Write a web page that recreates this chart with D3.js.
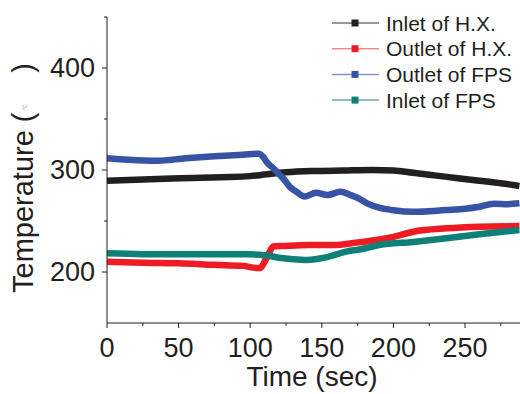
<!DOCTYPE html>
<html>
<head>
<meta charset="utf-8">
<script src="https://cdn.jsdelivr.net/npm/d3@7/dist/d3.min.js"></script>
<style>
html,body{margin:0;padding:0;background:#fff;}
svg{display:block;font-family:"Liberation Sans",Arial,sans-serif;}
</style>
</head>
<body>
<svg id="chart" width="520" height="394"></svg>
<script>
// ---- data ----
const seriesNames = ["Inlet of H.X.", "Outlet of H.X.", "Outlet of FPS", "Inlet of FPS"];
const seriesColors = ["#231f20", "#ed1c24", "#3753a5", "#0e8078"];
const legendLineColors = ["#7a7778", "#f28a8e", "#8593c8", "#63ada8"];

const inletHXTime = [0,20,40,60,80,100,110,125,145,165,185,200,215,230,245,260,275,288];
const inletHXTemp = [289.5,290.5,291.5,292.2,293,294,295.5,297.7,299,299.5,300,299.6,297,294.5,292,289.5,287,284.3];

const outletHXTime = [0,25,50,75,95,104,107,110,113,116,123,140,158,174,188,200,214,237,260,288];
const outletHXTemp = [210,209,208.5,207,206,204,204,210,218,225,225.5,226.5,226.5,228.8,231.4,234.5,239.5,242.8,244.4,245];

const outletFPSTime = [0,15,35,55,75,95,106,109,112,116,120,124,128,132,138,146,154,163,170,176,182,190,200,214,237,250,260,270,280,288];
const outletFPSTemp = [311.5,310,309,311.5,313.5,315,316,313,307,302,296,290,283,279,274,277.7,275.5,278.7,275.5,272,267,263,260.5,259,260.8,262,264,267,266.5,267.3];

const inletFPSTime = [0,25,50,75,100,110,120,130,140,153,167,180,190,214,237,260,288];
const inletFPSTemp = [218.3,217.5,217.3,217.3,217.3,216.5,214,212.5,211.8,214.4,220,223,226.5,229.5,233,237,241.2];

const xMajorTicks = [0,50,100,150,200,250];
const xMinorTicks = [25,75,125,175,225,275];
const yMajorTicks = [200,300,400];
const yMinorTicks = [250,350];

const xTitle = "Time (sec)";
const yTitle = "Temperature (";

// ---- chart ----
const svg = d3.select("#chart");
const ink = "#231f20";

const x = d3.scaleLinear().domain([0, 300]).range([107, 536.6]);
const y = d3.scaleLinear().domain([150, 450]).range([323, 17]);

const series = [
  {t: inletHXTime, v: inletHXTemp},
  {t: outletHXTime, v: outletHXTemp},
  {t: outletFPSTime, v: outletFPSTemp},
  {t: inletFPSTime, v: inletFPSTemp}
];

svg.append("defs").append("clipPath").attr("id","plotclip")
  .append("rect").attr("x",107).attr("y",17).attr("width",420).attr("height",306);

const line = d3.line().x(d => x(d[0])).y(d => y(d[1])).curve(d3.curveMonotoneX);
const drawOrder = [0, 2, 1, 3];
const g = svg.append("g").attr("clip-path","url(#plotclip)");
drawOrder.forEach(i => {
  const s = series[i];
  g.append("path")
    .datum(s.t.map((tt, k) => [tt, s.v[k]]))
    .attr("d", line)
    .attr("fill","none")
    .attr("stroke", seriesColors[i])
    .attr("stroke-width", 6.5)
    .attr("stroke-linejoin","round");
});

// axes
const xAxis = svg.append("g").attr("transform", `translate(0,${y(150)})`);
xAxis.append("line").attr("x1", x(0)).attr("x2", 520).attr("stroke", ink).attr("stroke-width",1);
xAxis.selectAll(".maj").data(xMajorTicks).enter().append("line")
  .attr("x1", d => x(d)).attr("x2", d => x(d)).attr("y1",0).attr("y2",5).attr("stroke",ink);
xAxis.selectAll(".min").data(xMinorTicks).enter().append("line")
  .attr("x1", d => x(d)).attr("x2", d => x(d)).attr("y1",0).attr("y2",3).attr("stroke",ink);
xAxis.selectAll(".lab").data(xMajorTicks).enter().append("text")
  .attr("x", d => x(d)).attr("y", 34).attr("text-anchor","middle")
  .attr("font-size", 27).attr("fill", ink).text(d => d);

const yAxis = svg.append("g").attr("transform", `translate(${x(0)},0)`);
yAxis.append("line").attr("y1", y(450)).attr("y2", y(150)).attr("stroke", ink).attr("stroke-width",1);
yAxis.selectAll(".maj").data(yMajorTicks).enter().append("line")
  .attr("y1", d => y(d)).attr("y2", d => y(d)).attr("x1",0).attr("x2",-5).attr("stroke",ink);
yAxis.selectAll(".min").data(yMinorTicks).enter().append("line")
  .attr("y1", d => y(d)).attr("y2", d => y(d)).attr("x1",0).attr("x2",-3).attr("stroke",ink);
yAxis.append("line").attr("y1", y(450)).attr("y2", y(450)).attr("x1",0).attr("x2",-3).attr("stroke",ink);
yAxis.selectAll(".lab").data(yMajorTicks).enter().append("text")
  .attr("x", -12).attr("y", d => y(d)).attr("dy","0.35em").attr("text-anchor","end")
  .attr("font-size", 27).attr("fill", ink).text(d => d);

// titles
svg.append("text").attr("x", 312).attr("y", 386).attr("text-anchor","middle")
  .attr("font-size", 28).attr("fill", ink).text(xTitle);

const yt = svg.append("text").attr("transform","translate(33,293) rotate(-90)")
  .attr("font-size", 29).attr("fill", ink);
yt.append("tspan").text(yTitle);
yt.append("tspan").attr("font-size", 6).attr("fill","#9a9a9a").attr("dx", 2).attr("dy", -6).text("℃");
svg.append("text").attr("transform","translate(33,63) rotate(-90)").attr("text-anchor","end")
  .attr("font-size", 29).attr("fill", ink).text(")");

// legend
const legend = svg.append("g");
seriesNames.forEach((name, i) => {
  const cy = 23 + i * 25.7;
  legend.append("line").attr("x1", 332).attr("x2", 379).attr("y1", cy).attr("y2", cy)
    .attr("stroke", legendLineColors[i]).attr("stroke-width", 1.5);
  legend.append("rect").attr("x", 351.5).attr("y", cy - 3.5).attr("width", 7).attr("height", 7)
    .attr("fill", seriesColors[i]);
  legend.append("text").attr("x", 386).attr("y", cy).attr("dy", "0.36em")
    .attr("font-size", 21).attr("fill", ink).text(name);
});
</script>
</body>
</html>
